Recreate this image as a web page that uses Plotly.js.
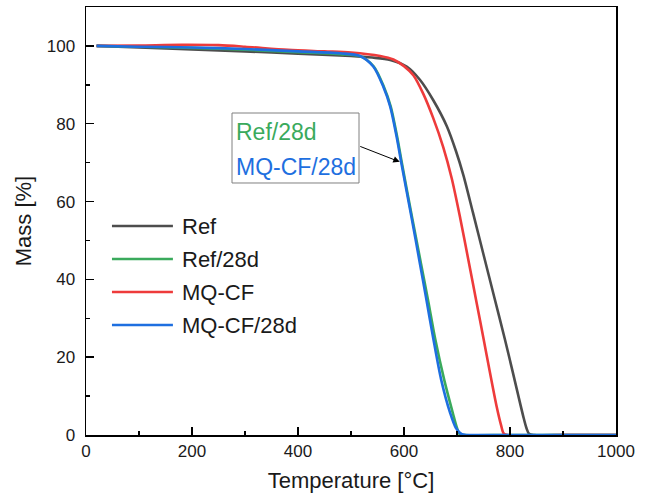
<!DOCTYPE html>
<html>
<head>
<meta charset="utf-8">
<script src="https://cdn.plot.ly/plotly-3.0.1.min.js"></script>
<style>html,body{margin:0;padding:0;background:#fff;}#chart{width:648px;height:497px;}</style>
</head>
<body>
<div id="chart"></div>
<script>
// ---- data ----
const seriesNames = ["Ref", "Ref/28d", "MQ-CF", "MQ-CF/28d"];

const refT = [20, 100, 200, 300, 400, 500, 540, 574, 605, 630, 655, 681, 698, 712, 730, 750, 770, 790, 805, 815, 825, 831, 836, 845, 900, 1000];
const refM = [100, 99.6, 99.1, 98.6, 98.0, 97.4, 97.0, 96.4, 94.7, 91.3, 86.1, 79.3, 73.0, 66.8, 57.2, 46.4, 35.6, 24.8, 16.3, 10.5, 4.8, 1.8, 0.3, 0, 0, 0];

const ref28T = [20, 100, 200, 300, 400, 480, 518, 543, 562, 575, 587, 596, 615, 632, 646, 659, 676, 692, 700, 705, 715, 800, 1000];
const ref28M = [100, 99.8, 99.5, 99.0, 98.4, 97.9, 97.3, 94.7, 89.5, 84.4, 76.7, 69.9, 56.1, 44.1, 34.2, 24.6, 14.1, 5.7, 1.8, 0.2, 0, 0, 0];

const mqT = [20, 100, 180, 250, 300, 381, 450, 500, 555, 580, 600, 618, 636, 655, 674, 690, 706, 722, 737, 750, 762, 775, 783, 788, 795, 900, 1000];
const mqM = [100, 100.1, 100.3, 100.2, 99.8, 99.0, 98.6, 98.3, 97.4, 96.5, 94.8, 92.4, 87.8, 81.5, 74.0, 66.0, 55.8, 44.6, 34.0, 24.8, 16.2, 7.2, 2.6, 0.4, 0, 0, 0];

const mq28T = [20, 100, 200, 300, 400, 480, 517, 542, 561, 574, 586, 595, 614, 630, 642, 655, 670, 687, 698, 709, 720, 800, 1000];
const mq28M = [100, 99.8, 99.6, 99.2, 98.6, 98.1, 97.4, 94.7, 89.5, 84.4, 76.7, 69.9, 56.1, 44.1, 35.0, 25.0, 14.3, 5.7, 1.8, 0.2, 0, 0, 0];

const xTicks = [0, 200, 400, 600, 800, 1000];
const yTicks = [0, 20, 40, 60, 80, 100];
const xTitle = "Temperature [°C]";
const yTitle = "Mass [%]";
const colors = ["#4d4d4d", "#3aaa5c", "#ee3b3b", "#1e6fe0"];

// ---- traces ----
const xs = [refT, ref28T, mqT, mq28T];
const ys = [refM, ref28M, mqM, mq28M];
const traces = seriesNames.map((n, i) => ({
  x: xs[i], y: ys[i], name: n, type: "scatter", mode: "lines",
  line: {color: colors[i], width: 2.6, shape: "spline", smoothing: 0.8},
  showlegend: false, hoverinfo: "skip"
}));

const FONT = "Liberation Sans, Arial, sans-serif";

// custom legend (shapes + text)
const legY = [0.4883, 0.4112, 0.3341, 0.257];
const shapes = [];
const annotations = [];
seriesNames.forEach((n, i) => {
  shapes.push({type: "line", xref: "paper", yref: "paper", x0: 0.049, x1: 0.164, y0: legY[i], y1: legY[i],
               line: {color: colors[i], width: 2.6}});
  annotations.push({xref: "paper", yref: "paper", x: 0.1774, y: legY[i], xanchor: "left", yanchor: "middle",
                    text: n, showarrow: false, font: {family: FONT, size: 22, color: "#1a1a1a"}});
});

// annotation box
shapes.push({type: "rect", xref: "paper", yref: "paper", x0: 0.2755, x1: 0.5151, y0: 0.5888, y1: 0.7523,
             line: {color: "#808080", width: 1}, fillcolor: "rgba(255,255,255,0)"});
annotations.push({xref: "paper", yref: "paper", x: 0.279, y: 0.7086, xanchor: "left", yanchor: "middle",
                  text: seriesNames[1], showarrow: false, font: {family: FONT, size: 23, color: colors[1]}});
annotations.push({xref: "paper", yref: "paper", x: 0.279, y: 0.6269, xanchor: "left", yanchor: "middle",
                  text: seriesNames[3], showarrow: false, font: {family: FONT, size: 23, color: colors[3]}});
// arrow
annotations.push({x: 592, y: 70.2, xref: "x", yref: "y", text: "", showarrow: true,
                  ax: -41, ay: -16, arrowhead: 2, arrowsize: 1.3, arrowwidth: 1, arrowcolor: "#000"});

const axisCommon = {
  showline: true, linecolor: "#000", linewidth: 1.5, mirror: true,
  ticks: "inside", ticklen: 8, tickwidth: 1.5, tickcolor: "#000",
  showgrid: false, zeroline: false,
  tickfont: {family: FONT, size: 17, color: "#1a1a1a"}
};

const layout = {
  width: 648, height: 497,
  margin: {l: 86, r: 32, t: 7, b: 62},
  paper_bgcolor: "#fff", plot_bgcolor: "#fff",
  font: {family: FONT},
  xaxis: Object.assign({}, axisCommon, {
    range: [0, 1000], tickvals: xTicks, ticktext: xTicks.map(String),
    ticklabelstandoff: 0,
    minor: {dtick: 100, ticks: "inside", ticklen: 4, tickwidth: 1.5, tickcolor: "#000"},
    title: {text: xTitle, font: {family: FONT, size: 22, color: "#1a1a1a"}, standoff: 12}
  }),
  yaxis: Object.assign({}, axisCommon, {
    range: [0, 110], tickvals: yTicks, ticktext: yTicks.map(String),
    ticklabelstandoff: 6,
    minor: {dtick: 10, ticks: "inside", ticklen: 4, tickwidth: 1.5, tickcolor: "#000"},
    title: {text: yTitle, font: {family: FONT, size: 22, color: "#1a1a1a"}, standoff: 9}
  }),
  shapes: shapes,
  annotations: annotations
};

Plotly.newPlot("chart", traces, layout, {displayModeBar: false, staticPlot: true});
</script>
</body>
</html>
